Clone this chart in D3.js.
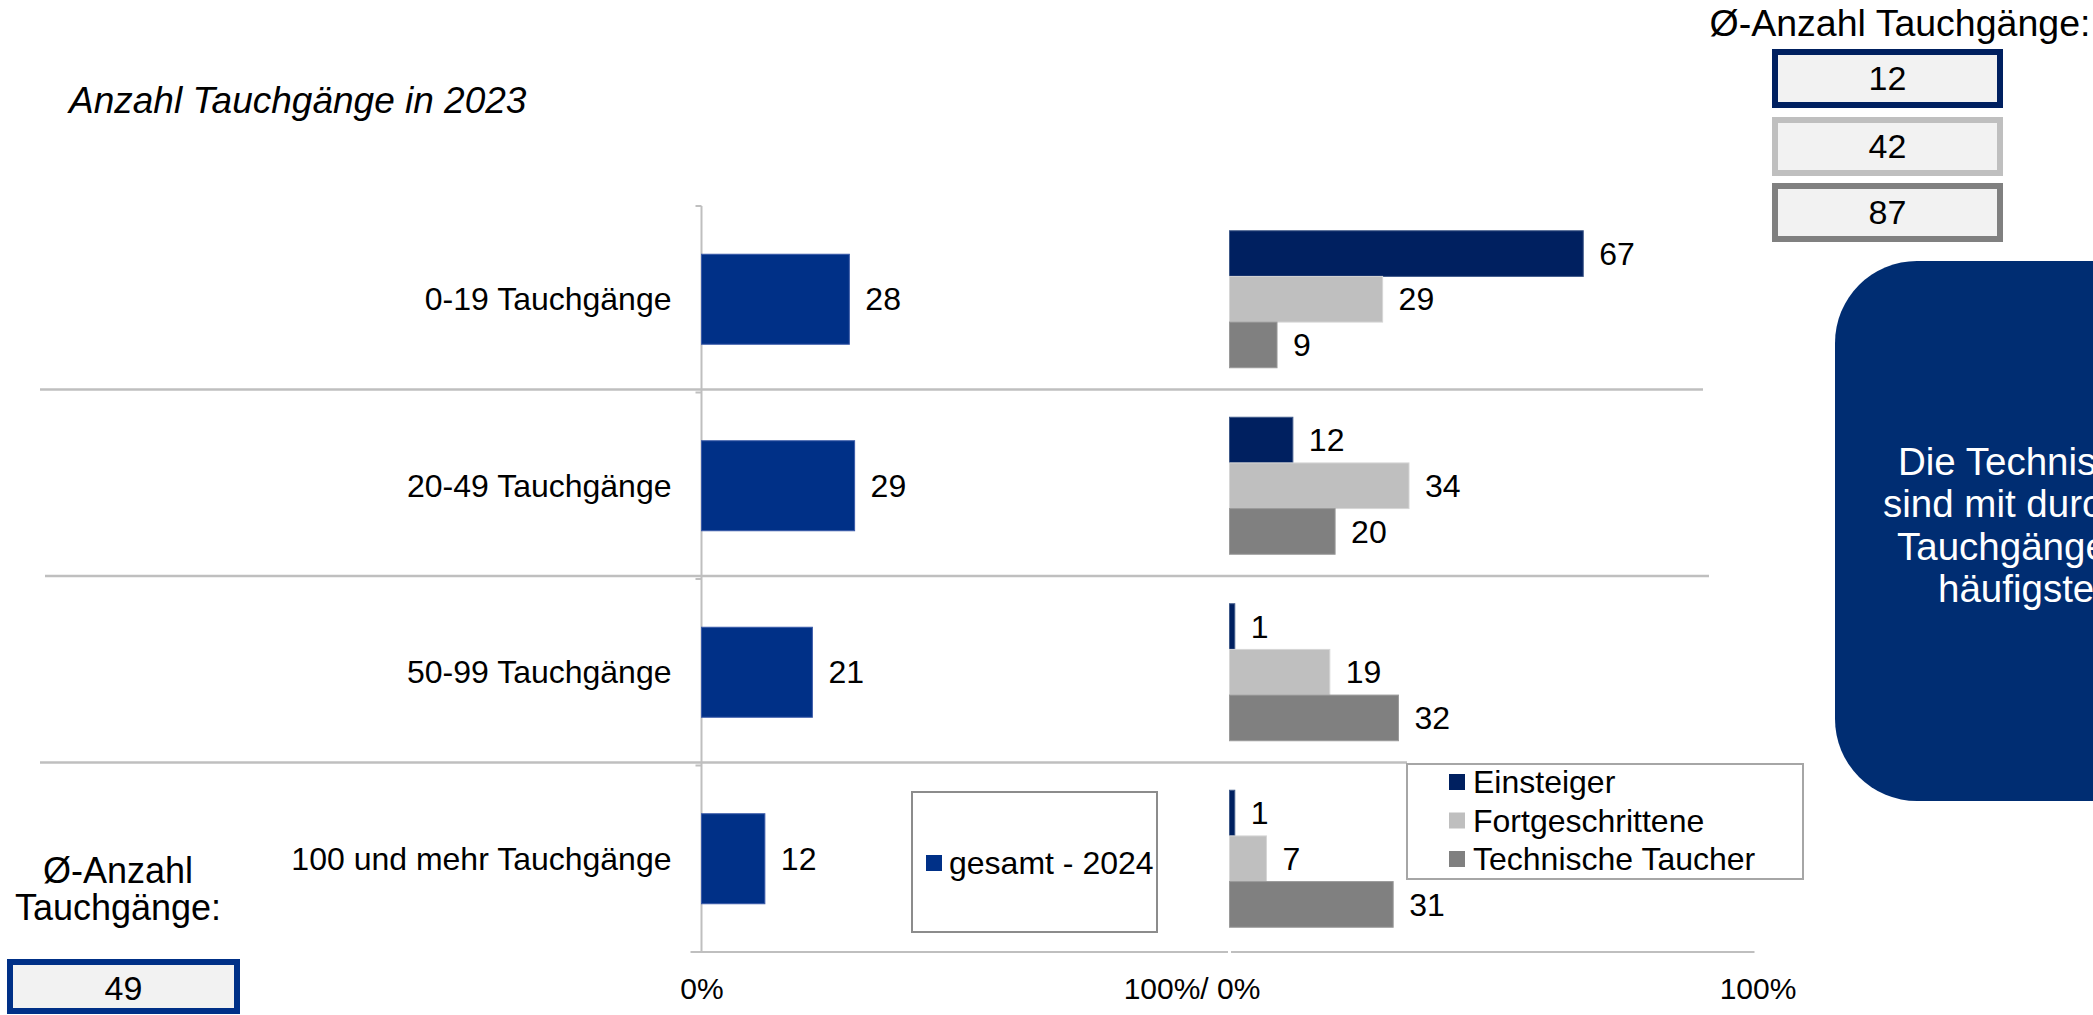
<!DOCTYPE html>
<html lang="de">
<head>
<meta charset="utf-8">
<title>Anzahl Tauchgänge in 2023</title>
<script src="https://cdn.jsdelivr.net/npm/d3@7"></script>
<style>
  html, body { margin: 0; padding: 0; background: #fff; overflow: hidden; }
  svg { display: block; font-family: "Liberation Sans", Arial, sans-serif; }
</style>
</head>
<body>
<svg id="chart" width="2093" height="1015"></svg>
<script>
// Kategorien und Werte (Anteile in %)
const categories = ["0-19 Tauchgänge", "20-49 Tauchgänge", "50-99 Tauchgänge", "100 und mehr Tauchgänge"];
const gesamt2024 = [28, 29, 21, 12];
const seriesNames = ["Einsteiger", "Fortgeschrittene", "Technische Taucher"];
const einsteiger = [67, 12, 1, 1];
const fortgeschrittene = [29, 34, 19, 7];
const technischeTaucher = [9, 20, 32, 31];
// Durchschnittliche Anzahl Tauchgänge
const avgBySeries = [12, 42, 87];
const avgTotal = 49;
const totalLegendLabel = "gesamt - 2024";
const leftTickLabels = ["0%", "100%/ 0%"];
const rightTickLabels = ["100%"];
const noteLines = ["Die Technischen Taucher", "sind mit durchschnittlich 87", "Tauchgängen im Jahr am", "häufigsten unterwegs"];

const W = 2093, H = 1015;
const svg = d3.select("#chart");

const colTotal = "#003087";
const seriesColors = ["#002060", "#BFBFBF", "#808080"];
const gridCol = "#BFBFBF";
const seriesValues = [einsteiger, fortgeschrittene, technischeTaucher];

// Skalen
const yTop = 206, yBottom = 952;
const xLeft = d3.scaleLinear().domain([0, 100]).range([701.5, 1229.5]);
const xRight = d3.scaleLinear().domain([0, 100]).range([1229.5, 1757.5]);

const yTotal = d3.scaleBand().domain(categories).range([yTop, yBottom])
  .paddingInner(0.5174).paddingOuter(0.2587);
const yGroup = d3.scaleBand().domain(categories).range([yTop, yBottom])
  .paddingInner(0.2654).paddingOuter(0.1327);
const ySub = d3.scaleBand().domain(seriesNames).range([0, yGroup.bandwidth()]).padding(0);

// Titel
svg.append("text")
  .attr("x", 69).attr("y", 113)
  .attr("font-size", 37).attr("font-style", "italic")
  .text("Anzahl Tauchgänge in 2023");

// Trennlinien zwischen den Kategorien
const step = yTotal.step();
const separators = [
  { y: yTop + step - 3, x1: 40, x2: 1703 },
  { y: yTop + 2 * step - 3, x1: 45, x2: 1709 },
  { y: yTop + 3 * step - 3, x1: 40, x2: 1407 }
];
svg.append("g").selectAll("line").data(separators).join("line")
  .attr("x1", d => d.x1).attr("x2", d => d.x2)
  .attr("y1", d => d.y).attr("y2", d => d.y)
  .attr("stroke", gridCol).attr("stroke-width", 2.5);

// Kategorie-Achse links
const axisG = svg.append("g");
axisG.append("line")
  .attr("x1", xLeft(0)).attr("x2", xLeft(0))
  .attr("y1", yTop).attr("y2", yBottom)
  .attr("stroke", gridCol).attr("stroke-width", 2);
const boundaries = d3.range(categories.length + 1).map(i => yTop + i * step);
axisG.selectAll("line.tick").data(boundaries).join("line")
  .attr("class", "tick")
  .attr("x1", xLeft(0) - 6).attr("x2", xLeft(0))
  .attr("y1", d => d).attr("y2", d => d)
  .attr("stroke", gridCol).attr("stroke-width", 2);

// Kategoriebeschriftung
svg.append("g").selectAll("text").data(categories).join("text")
  .attr("x", xLeft(0) - 30)
  .attr("y", d => yTotal(d) + yTotal.bandwidth() / 2)
  .attr("dy", "0.35em")
  .attr("text-anchor", "end")
  .attr("font-size", 32)
  .text(d => d);

// Balken gesamt - 2024
const totalData = categories.map((c, i) => ({ c, v: gesamt2024[i] }));
const totalG = svg.append("g");
totalG.selectAll("rect").data(totalData).join("rect")
  .attr("x", xLeft(0))
  .attr("y", d => yTotal(d.c))
  .attr("width", d => xLeft(d.v) - xLeft(0))
  .attr("height", yTotal.bandwidth())
  .attr("fill", colTotal)
  .attr("stroke", "#3a5aa8").attr("stroke-width", 1);
totalG.selectAll("text").data(totalData).join("text")
  .attr("x", d => xLeft(d.v) + 16)
  .attr("y", d => yTotal(d.c) + yTotal.bandwidth() / 2)
  .attr("dy", "0.35em")
  .attr("font-size", 32)
  .text(d => d.v);

// Balken nach Tauchertyp
const groupData = categories.flatMap((c, i) =>
  seriesNames.map((s, j) => ({ c, s, j, v: seriesValues[j][i] })));
const groupG = svg.append("g");
groupG.selectAll("rect").data(groupData).join("rect")
  .attr("x", xRight(0))
  .attr("y", d => yGroup(d.c) + ySub(d.s))
  .attr("width", d => xRight(d.v) - xRight(0))
  .attr("height", ySub.bandwidth())
  .attr("fill", d => seriesColors[d.j])
  .attr("stroke", d => d.j === 0 ? "#405a8a" : (d.j === 1 ? "#d6d6d6" : "#9a9a9a"))
  .attr("stroke-width", 1);
groupG.selectAll("text").data(groupData).join("text")
  .attr("x", d => xRight(d.v) + 16)
  .attr("y", d => yGroup(d.c) + ySub(d.s) + ySub.bandwidth() / 2)
  .attr("dy", "0.35em")
  .attr("font-size", 32)
  .text(d => d.v);

// Wertachsen unten
const axisLeftG = svg.append("g").attr("transform", `translate(0,${yBottom})`)
  .call(d3.axisBottom(xLeft).tickValues([0, 100]).tickSize(0).tickPadding(26)
    .tickFormat((d, i) => leftTickLabels[i]));
const axisRightG = svg.append("g").attr("transform", `translate(0,${yBottom})`)
  .call(d3.axisBottom(xRight).tickValues([100]).tickSize(0).tickPadding(26)
    .tickFormat((d, i) => rightTickLabels[i]));
[axisLeftG, axisRightG].forEach(g => {
  g.select(".domain").attr("stroke", gridCol).attr("stroke-width", 2);
  g.selectAll(".tick text").attr("font-size", 30).attr("fill", "#000")
    .attr("font-family", "Liberation Sans, Arial, sans-serif");
});
axisLeftG.select(".domain").attr("d", `M${xLeft(0) - 11},0H${xLeft(100) - 1.5}`);
axisRightG.select(".domain").attr("d", `M${xRight(0) + 1.5},0H${xRight(100) - 3}`);
axisLeftG.selectAll(".tick text").filter(d => d === 100).attr("dx", -38);

// Legende gesamt - 2024
const leg1 = svg.append("g").attr("transform", "translate(912,792)");
leg1.append("rect").attr("width", 245).attr("height", 140)
  .attr("fill", "#fff").attr("stroke", "#8c8c8c").attr("stroke-width", 2);
leg1.append("rect").attr("x", 14).attr("y", 63).attr("width", 16).attr("height", 16).attr("fill", colTotal);
leg1.append("text").attr("x", 37).attr("y", 71).attr("dy", "0.35em").attr("font-size", 32).text(totalLegendLabel);

// Legende Tauchertypen
const leg2 = svg.append("g").attr("transform", "translate(1407,764)");
leg2.append("rect").attr("width", 396).attr("height", 115)
  .attr("fill", "#fff").attr("stroke", "#a6a6a6").attr("stroke-width", 2);
const leg2Items = leg2.selectAll("g").data(seriesNames).join("g")
  .attr("transform", (d, i) => `translate(42,${18 + i * 38.5})`);
leg2Items.append("rect").attr("x", 0).attr("y", -8).attr("width", 16).attr("height", 16)
  .attr("fill", (d, i) => seriesColors[i]);
leg2Items.append("text").attr("x", 24).attr("dy", "0.35em").attr("font-size", 32).text(d => d);

// Durchschnitt je Tauchertyp (oben rechts)
svg.append("text").attr("x", 1900).attr("y", 36).attr("text-anchor", "middle")
  .attr("font-size", 37.5).text("Ø-Anzahl Tauchgänge:");
const avgBoxes = [{ y: 49 }, { y: 117 }, { y: 183 }];
const avgG = svg.append("g").selectAll("g").data(avgBySeries).join("g")
  .attr("transform", (d, i) => `translate(1772,${avgBoxes[i].y})`);
avgG.append("rect").attr("x", 3).attr("y", 3).attr("width", 225).attr("height", 53)
  .attr("fill", "#F2F2F2").attr("stroke", (d, i) => seriesColors[i]).attr("stroke-width", 6);
avgG.append("text").attr("x", 115.5).attr("y", 29.5).attr("dy", "0.35em")
  .attr("text-anchor", "middle").attr("font-size", 34).text(d => d);

// Durchschnitt gesamt (unten links)
svg.append("text").attr("x", 118).attr("y", 883).attr("text-anchor", "middle")
  .attr("font-size", 36).text("Ø-Anzahl");
svg.append("text").attr("x", 118).attr("y", 920).attr("text-anchor", "middle")
  .attr("font-size", 36).text("Tauchgänge:");
svg.append("rect").attr("x", 10).attr("y", 962).attr("width", 227).attr("height", 49)
  .attr("fill", "#F2F2F2").attr("stroke", colTotal).attr("stroke-width", 6);
svg.append("text").attr("x", 123.5).attr("y", 988).attr("dy", "0.35em")
  .attr("text-anchor", "middle").attr("font-size", 34).text(avgTotal);

// Hinweisbox rechts (reicht über den rechten Rand hinaus)
svg.append("rect").attr("x", 1835).attr("y", 261).attr("width", 400).attr("height", 540)
  .attr("rx", 82).attr("ry", 82).attr("fill", "#002D72");
const noteX = [1898, 1883, 1897, 1938];
svg.append("g").selectAll("text").data(noteLines).join("text")
  .attr("x", (d, i) => noteX[i]).attr("y", (d, i) => 475 + i * 42.3)
  .attr("font-size", 38.5).attr("fill", "#fff").text(d => d);
</script>
</body>
</html>
